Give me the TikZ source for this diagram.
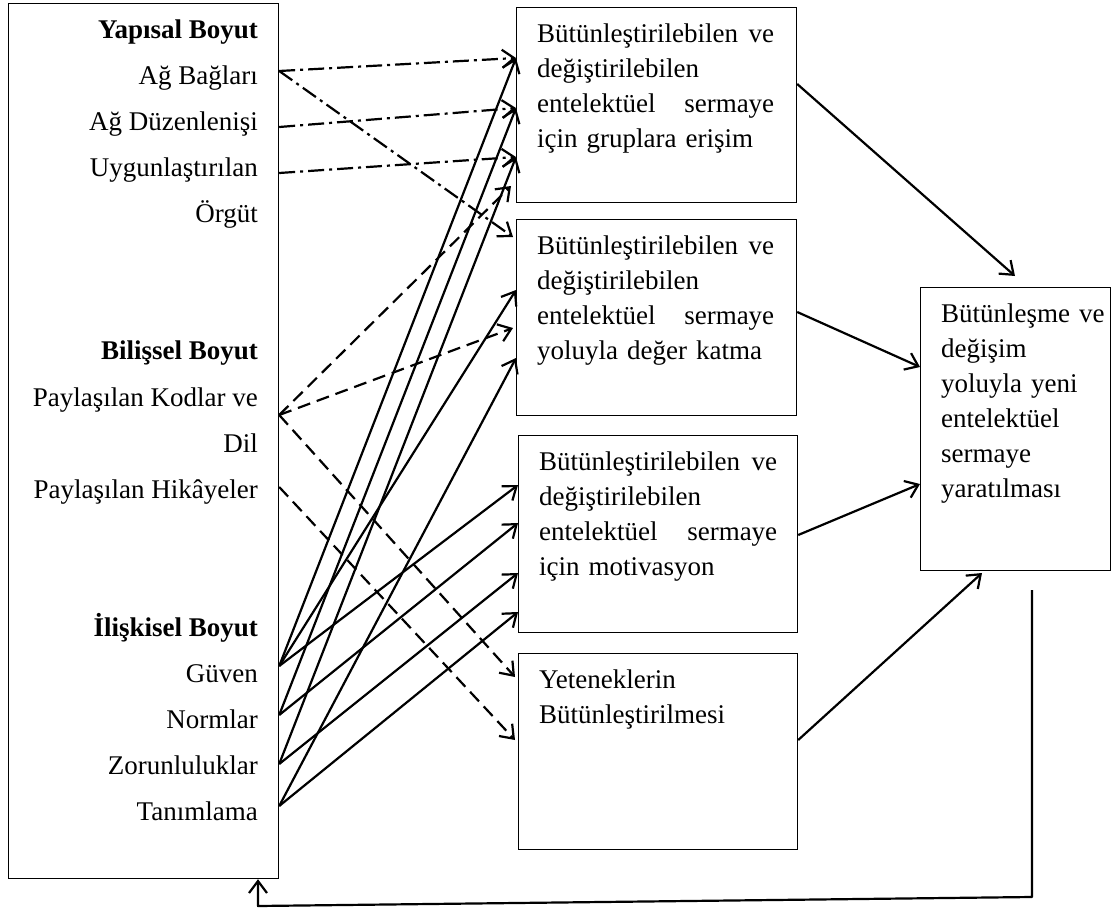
\documentclass[tikz,border=0pt]{standalone}
\usepackage{fontspec}
\setmainfont{Liberation Serif}
\usetikzlibrary{arrows.meta}

\begin{document}
\begin{tikzpicture}[x=1pt,y=-1pt,
  box/.style={draw, line width=1.2pt, inner sep=0pt, anchor=north west},
  lbl/.style={anchor=base east, inner sep=0pt, font=\fontsize{27}{35}\selectfont},
  hdr/.style={lbl, font=\fontsize{27}{35}\selectfont\bfseries},
  txt/.style={anchor=base west, inner sep=0pt, text width=240pt, align=left,
              font=\fontsize{27}{35}\selectfont},
  link/.style={line width=2.2pt, -{Straight Barb[length=12pt,width=18pt]}},
  dashdot/.style={dash pattern=on 16pt off 5pt on 3pt off 5pt},
  dashline/.style={dash pattern=on 13pt off 7pt},
]
\useasboundingbox (0,0) rectangle (1120,908);

% ---- dimension box on the left
\node[box, minimum width=270pt, minimum height=875pt] (dims) at (8,3) {};
\node[hdr] (hYap) at (258,38) {Yapısal Boyut};
\node[lbl] (lAB) at (258,84)  {Ağ Bağları};
\node[lbl] (lAD) at (258,130) {Ağ Düzenlenişi};
\node[lbl] (lUY) at (258,176) {Uygunlaştırılan};
\node[lbl] (lOR) at (258,222) {Örgüt};
\node[hdr] (hBil) at (258,359) {Bilişsel Boyut};
\node[lbl] (lPK) at (258,406) {Paylaşılan Kodlar ve};
\node[lbl] (lDL) at (258,452) {Dil};
\node[lbl] (lPH) at (258,498) {Paylaşılan Hikâyeler};
\node[hdr] (hIli) at (258,636) {İlişkisel Boyut};
\node[lbl] (lGV) at (258,682) {Güven};
\node[lbl] (lNR) at (258,728) {Normlar};
\node[lbl] (lZR) at (258,774) {Zorunluluklar};
\node[lbl] (lTN) at (258,820) {Tanımlama};

% ---- middle boxes
\node[box, minimum width=280pt, minimum height=195pt] (b1) at (516,7) {};
\node[box, minimum width=280pt, minimum height=196pt] (b2) at (516,219) {};
\node[box, minimum width=279pt, minimum height=197pt] (b3) at (518,435) {};
\node[box, minimum width=279pt, minimum height=196pt] (b4) at (518,653) {};
\node[txt] (t1) at (537,42) {\makebox[237pt]{Bütünleştirilebilen\hfill ve}\\değiştirilebilen\\
  \makebox[237pt]{entelektüel\hfill sermaye}\\için gruplara erişim};
\node[txt] (t2) at (537,254) {\makebox[237pt]{Bütünleştirilebilen\hfill ve}\\değiştirilebilen\\
  \makebox[237pt]{entelektüel\hfill sermaye}\\yoluyla değer katma};
\node[txt] (t3) at (539,470) {\makebox[238pt]{Bütünleştirilebilen\hfill ve}\\değiştirilebilen\\
  \makebox[238pt]{entelektüel\hfill sermaye}\\için motivasyon};
\node[txt] (t4) at (539,688) {Yeteneklerin\\Bütünleştirilmesi};

% ---- outcome box
\node[box, minimum width=190pt, minimum height=283pt] (b5) at (920,287) {};
\node[txt, text width=170pt] (t5) at (941,322) {Bütünleşme ve\\değişim\\yoluyla yeni\\entelektüel\\sermaye\\yaratılması};

% ---- connector ports
\coordinate (sAB) at (dims.east |- 0,71);
\coordinate (sAD) at (dims.east |- 0,127);
\coordinate (sUY) at (dims.east |- 0,173);
\coordinate (sPK) at (dims.east |- 0,415);
\coordinate (sPH) at (dims.east |- 0,487);
\coordinate (sGV) at (dims.east |- 0,666);
\coordinate (sNR) at (dims.east |- 0,715);
\coordinate (sZR) at (dims.east |- 0,764);
\coordinate (sTN) at (dims.east |- 0,806);

\coordinate (p1a) at (b1.west |- 0,58);
\coordinate (p1b) at (b1.west |- 0,108);
\coordinate (p1c) at (b1.west |- 0,157);
\coordinate (p1d) at (511,186);
\coordinate (p2a) at (513,237);
\coordinate (p2b) at (b2.west |- 0,290);
\coordinate (p2c) at (513,328);
\coordinate (p2d) at (b2.west |- 0,358);
\coordinate (p3a) at (b3.west |- 0,485);
\coordinate (p3b) at (b3.west |- 0,523);
\coordinate (p3c) at (b3.west |- 0,573);
\coordinate (p3d) at (b3.west |- 0,612);
\coordinate (p4a) at (515,677);
\coordinate (p4b) at (515,740);

% ---- structural links (dash-dot)
\draw[link, dashdot] (sAB) -- (p1a);
\draw[link, dashdot] (sAB) -- (p2a);
\draw[link, dashdot] (sAD) -- (p1b);
\draw[link, dashdot] (sUY) -- (p1c);

% ---- cognitive links (dashed)
\draw[link, dashline] (sPK) -- (p1d);
\draw[link, dashline] (sPK) -- (p2c);
\draw[link, dashline] (sPK) -- (p4a);
\draw[link, dashline] (sPH) -- (p4b);

% ---- relational links (solid)
\draw[link] (sGV) -- (p1a);
\draw[link] (sGV) -- (p2b);
\draw[link] (sGV) -- (p3a);
\draw[link] (sNR) -- (p1b);
\draw[link] (sNR) -- (p3b);
\draw[link] (sZR) -- (p1c);
\draw[link] (sZR) -- (p3c);
\draw[link] (sTN) -- (p2d);
\draw[link] (sTN) -- (p3d);

% ---- links into the outcome box
\coordinate (o1) at (b1.east |- 0,84);
\coordinate (o2) at (b2.east |- 0,312);
\coordinate (o3) at (b3.east |- 0,535);
\coordinate (o4) at (b4.east |- 0,740);
\coordinate (i1) at (1015,276);
\coordinate (i2) at (b5.west |- 0,367);
\coordinate (i3) at (b5.west |- 0,484);
\coordinate (i4) at (982,573);
\draw[link] (o1) -- (i1);
\draw[link] (o2) -- (i2);
\draw[link] (o3) -- (i3);
\draw[link] (o4) -- (i4);

% ---- feedback loop back to the dimensions
\coordinate (fb0) at (1032,590);
\coordinate (fb1) at (1032,897);
\coordinate (fb2) at (258,906);
\coordinate (fb3) at (dims.south -| 258,0);
\draw[link, line join=round] (fb0) -- (fb1) -- (fb2) -- (fb3);
\end{tikzpicture}
\end{document}
